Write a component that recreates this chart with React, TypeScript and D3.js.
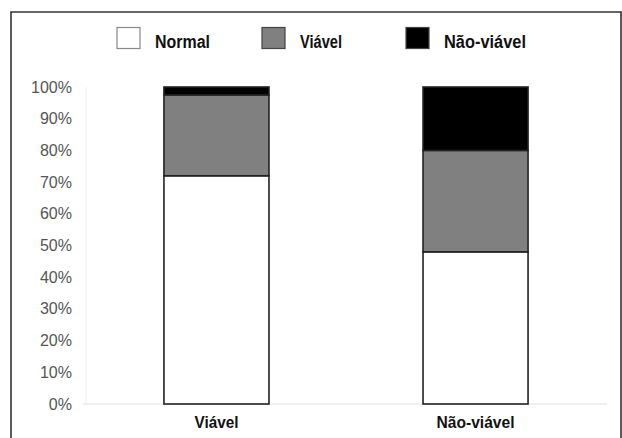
import React from "react";
import * as d3 from "d3";

const categories = ["Viável", "Não-viável"];
const seriesNames = ["Normal", "Viável", "Não-viável"];
const normalValues = [72, 48];
const viavelValues = [25.5, 32];
const naoViavelValues = [2.5, 20];
const tickValues = [0, 10, 20, 30, 40, 50, 60, 70, 80, 90, 100];
const colors = ["#ffffff", "#808080", "#000000"];

const W = 622;
const H = 438;
const font = "'Liberation Sans', Arial, sans-serif";

export default function App() {
  const y = d3.scaleLinear().domain([0, 100]).range([404, 87]);
  const x = d3.scaleBand().domain(categories).range([87, 605]).paddingInner(0.5946).paddingOuter(0.297);
  const table = categories.map((c, i) => ({
    cat: c,
    Normal: normalValues[i],
    "Viável": viavelValues[i],
    "Não-viável": naoViavelValues[i],
  }));
  const stacked = d3.stack<any>().keys(seriesNames)(table);
  const legendX = [117, 262, 406];
  const legendTextLen = [55, 42, 82];
  const catTextLen = [44, 78];

  return (
    <div style={{ position: "absolute", left: 0, top: 0 }}>
      <svg width={W} height={H} style={{ display: "block", background: "#fff" }}>
        <rect x={0} y={0} width={W} height={H} fill="#fff" />
        {/* frame */}
        <path d={`M11,${H} V12 H621 V${H}`} fill="none" stroke="#333" strokeWidth={1.6} />
        {/* legend */}
        {seriesNames.map((s, i) => (
          <g key={s}>
            <rect x={legendX[i]} y={27.5} width={23} height={21} fill={colors[i]} stroke={i === 0 ? "#888" : "#444"} strokeWidth={1.2} />
            <text x={legendX[i] + 38} y={48} fontFamily={font} fontWeight="bold" fontSize={17.5} fill="#111"
              textLength={legendTextLen[i]} lengthAdjust="spacingAndGlyphs">{s}</text>
          </g>
        ))}
        {/* axes */}
        <line x1={86} x2={86} y1={87} y2={404} stroke="#eee" strokeWidth={1} />
        <line x1={83} x2={607} y1={404} y2={404} stroke="#e2e2e2" strokeWidth={1.2} />
        {tickValues.map((t) => (
          <text key={t} x={72} y={y(t) + 5.5} textAnchor="end" fontFamily={font} fontSize={16} fill="#555">{t}%</text>
        ))}
        {/* bars */}
        {stacked.map((layer, li) =>
          layer.map((d, ci) => (
            <rect
              key={`${li}-${ci}`}
              x={x(categories[ci])!}
              y={y(d[1])}
              width={x.bandwidth()}
              height={y(d[0]) - y(d[1])}
              fill={colors[li]}
              stroke="#222"
              strokeWidth={1.6}
            />
          ))
        )}
        {categories.map((c, i) => (
          <text key={c} x={x(c)! + x.bandwidth() / 2} y={428} textAnchor="middle" fontFamily={font} fontWeight="bold" fontSize={16} fill="#111"
            textLength={catTextLen[i]} lengthAdjust="spacingAndGlyphs">{c}</text>
        ))}
      </svg>
    </div>
  );
}
